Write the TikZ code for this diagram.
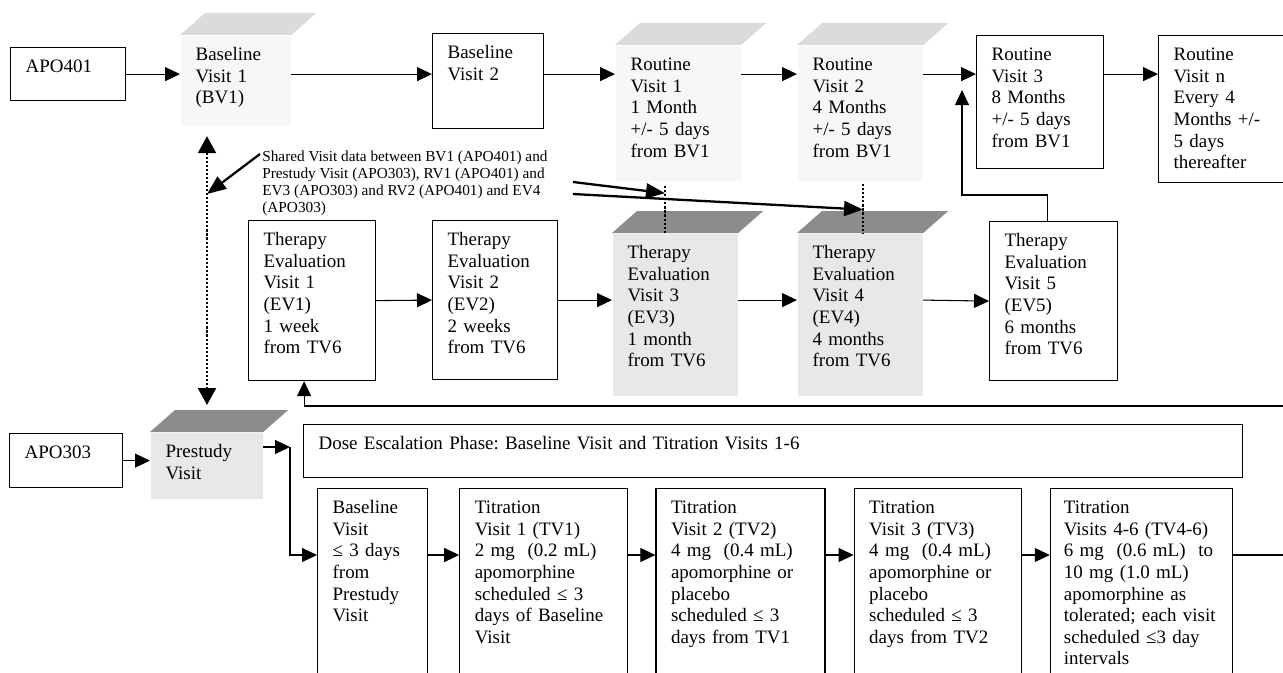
\documentclass[tikz,border=0pt]{standalone}
\usepackage{fontspec}
\setmainfont{Liberation Serif}
\definecolor{FaceLight}{gray}{0.86}
\definecolor{BodyLight}{gray}{0.97}
\definecolor{FaceDark}{gray}{0.55}
\definecolor{BodyDark}{gray}{0.91}
\usetikzlibrary{arrows.meta, positioning}
\newcommand{\visittop}[2]{\fill[#2] (#1.north west) -- ([shift={(25,-22)}]#1.north west) -- ([shift={(25,-22)}]#1.north east) -- (#1.north east) -- cycle;}
\frenchspacing

\begin{document}
\begin{tikzpicture}[
            x=0.02cm, y=-0.02cm,
            visit/.style={rectangle, draw, line width=0.7pt, anchor=north west, align=left,
                          inner xsep=0.3cm, inner ysep=0.22cm, text height=0.28cm,
                          font=\fontsize{10.8}{12.3}\selectfont},
            lightvisit/.style={visit, draw=none, fill=BodyLight},
            darkvisit/.style={visit, draw=none, fill=BodyDark},
            arrow/.style={-{Triangle[length=0.3cm, width=0.28cm]}, line width=0.6pt},
            sharearrow/.style={-{Triangle[length=0.38cm, width=0.3cm]}, line width=1.3pt},
            link/.style={line width=1.3pt, dash pattern=on 1.2pt off 1.1pt}
        ]
            \useasboundingbox[fill=white] (0,0) rectangle (1283,672);

            % shaded visits shared by both studies
            \node[lightvisit, text width=1.6cm, text depth=1.08cm] (BV1) at (180,35) {Baseline\\Visit 1\\(BV1)};
            \node[lightvisit, text width=1.9cm, text depth=1.98cm] (RV1) at (615,45) {Routine\\Visit 1\\1 Month\\+/- 5 days\\from BV1};
            \node[lightvisit, text width=1.9cm, text depth=1.98cm] (RV2) at (797,45) {Routine\\Visit 2\\4 Months\\+/- 5 days\\from BV1};
            \node[darkvisit, text width=1.9cm, text depth=2.52cm] (EV3) at (612,233) {Therapy\\Evaluation\\Visit 3\\(EV3)\\1 month\\from TV6};
            \node[darkvisit, text width=1.9cm, text depth=2.52cm] (EV4) at (797,233) {Therapy\\Evaluation\\Visit 4\\(EV4)\\4 months\\from TV6};
            \node[darkvisit, text width=1.64cm, text depth=0.6cm] (PRE) at (150,432) {Prestudy\\Visit};
            \visittop{BV1}{FaceLight}
            \visittop{RV1}{FaceLight}
            \visittop{RV2}{FaceLight}
            \visittop{EV3}{FaceDark}
            \visittop{EV4}{FaceDark}
            \visittop{PRE}{FaceDark}

            % APO401
            \node[visit, text width=1.7cm, text depth=0.34cm] (APO401) at (10,47) {APO401};
            \node[visit, text width=1.62cm, text depth=1.18cm] (BV2) at (432,33) {Baseline\\Visit 2};
            \node[visit, text width=1.94cm, text depth=1.94cm] (RV3) at (976,35) {Routine\\Visit 3\\8 Months\\+/- 5 days\\from BV1};
            \node[visit, text width=2.04cm, text depth=2.22cm] (RVn) at (1158,35) {Routine\\Visit n\\Every 4\\Months +/-\\5 days\\thereafter};

            \node[visit, text width=1.94cm, text depth=2.48cm] (EV1) at (248,220) {Therapy\\Evaluation\\Visit 1\\(EV1)\\1 week\\from TV6};
            \node[visit, text width=1.9cm, text depth=2.46cm] (EV2) at (432,220) {Therapy\\Evaluation\\Visit 2\\(EV2)\\2 weeks\\from TV6};
            \node[visit, text width=1.96cm, text depth=2.46cm] (EV5) at (989,221) {Therapy\\Evaluation\\Visit 5\\(EV5)\\6 months\\from TV6};

            % APO303
            \node[visit, text width=1.66cm, text depth=0.36cm] (APO303) at (9,433) {APO303};
            \node[visit, text width=18.18cm, text depth=0.34cm] (dose) at (303,424) {Dose Escalation Phase: Baseline Visit and Titration Visits 1-6};
            \node[visit, text width=1.6cm, text depth=3.6cm] (BLV) at (317,488) {Baseline\\Visit\\≤ 3 days\\from\\Prestudy\\Visit};
            \node[visit, text width=2.76cm, text depth=3.6cm, right=0.62cm of BLV.north east, anchor=north west] (TV1) {Titration\\Visit 1 (TV1)\\2 mg~ (0.2 mL)\\apomorphine\\scheduled ≤ 3\\days of Baseline\\Visit};
            \node[visit, text width=2.78cm, text depth=3.6cm, right=0.54cm of TV1.north east, anchor=north west] (TV2) {Titration\\Visit 2 (TV2)\\4 mg~ (0.4 mL)\\apomorphine or\\placebo\\scheduled ≤ 3\\days from TV1};
            \node[visit, text width=2.74cm, text depth=3.6cm, right=0.56cm of TV2.north east, anchor=north west] (TV3) {Titration\\Visit 3 (TV3)\\4 mg~ (0.4 mL)\\apomorphine or\\placebo\\scheduled ≤ 3\\days from TV2};
            \node[visit, text width=3.1cm, inner xsep=0.27cm, text depth=3.6cm, right=0.56cm of TV3.north east, anchor=north west] (TV46) {Titration\\Visits 4-6 (TV4-6)\\6 mg~ (0.6 mL)~ to\\10 mg (1.0 mL)\\apomorphine as\\tolerated; each visit\\scheduled ≤3 day\\intervals};

            \node[anchor=north west, align=left, inner sep=0pt, font=\fontsize{8.7}{9.5}\selectfont] (shared) at (262,151)
                {Shared Visit data between BV1 (APO401) and\\Prestudy Visit (APO303), RV1 (APO401) and\\EV3 (APO303) and RV2 (APO401) and EV4\\(APO303)};

            \coordinate (tvrow) at (0,555);
            \coordinate (split) at (290,447);
            \coordinate (loopR) at (1300,406);

            % top row
            \draw[arrow] (APO401.east) -- (BV1.west |- APO401.east);
            \draw[arrow] (BV1.east |- APO401.east) -- (BV2.west |- APO401.east);
            \draw[arrow] (BV2.east |- APO401.east) -- (RV1.west |- APO401.east);
            \draw[arrow] (RV1.east |- APO401.east) -- (RV2.west |- APO401.east);
            \draw[arrow] (RV2.east |- APO401.east) -- (RV3.west |- APO401.east);
            \draw[arrow] (RV3.east |- APO401.east) -- (RVn.west |- APO401.east);

            % evaluation row
            \draw[arrow] (EV1.east) -- (EV2.west);
            \draw[arrow] (EV2.east) -- (EV3.west |- EV2.east);
            \draw[arrow] (EV3.east |- EV2.east) -- (EV4.west |- EV2.east);
            \draw[arrow] (EV4.east |- EV2.east) -- (EV5.west);
            \draw[arrow] ([shift={(-6,0)}]EV5.north) -- ++(0,-26) -| ([shift={(-14,-12)}]RV3.west);

            % dose escalation row
            \draw[arrow] (APO303.east) -- (PRE.west |- APO303.east);
            \draw[arrow] (PRE.east |- split) -- (split);
            \draw[arrow] (split) |- (BLV.west |- tvrow);
            \draw[arrow] (BLV.east |- tvrow) -- (TV1.west |- tvrow);
            \draw[arrow] (TV1.east |- tvrow) -- (TV2.west |- tvrow);
            \draw[arrow] (TV2.east |- tvrow) -- (TV3.west |- tvrow);
            \draw[arrow] (TV3.east |- tvrow) -- (TV46.west |- tvrow);
            \draw[arrow] (TV46.east |- tvrow) -| (loopR) -| ([shift={(-8,0)}]EV1.south);

            % shared visits
            \draw[link, {Triangle[length=0.34cm, width=0.36cm]}-{Triangle[length=0.34cm, width=0.36cm]}]
                ([shift={(27,10)}]BV1.south west) -- coordinate[pos=0.215] (hitBV) ([shift={(57,-27)}]PRE.north west);
            \draw[link] ([shift={(50,5)}]RV1.south west) -- coordinate[pos=0.15] (hitRV1) ([shift={(53,0)}]EV3.north west);
            \draw[link] ([shift={(66,3)}]RV2.south west) -- coordinate[pos=0.52] (hitRV2) ([shift={(66,0)}]EV4.north west);
            \draw[sharearrow] ([shift={(-2,3)}]shared.north west) -- (hitBV);
            \draw[sharearrow] ([shift={(25,31)}]shared.north east) -- (hitRV1);
            \draw[sharearrow] ([shift={(25,43)}]shared.north east) -- (hitRV2);
        \end{tikzpicture}
\end{document}
